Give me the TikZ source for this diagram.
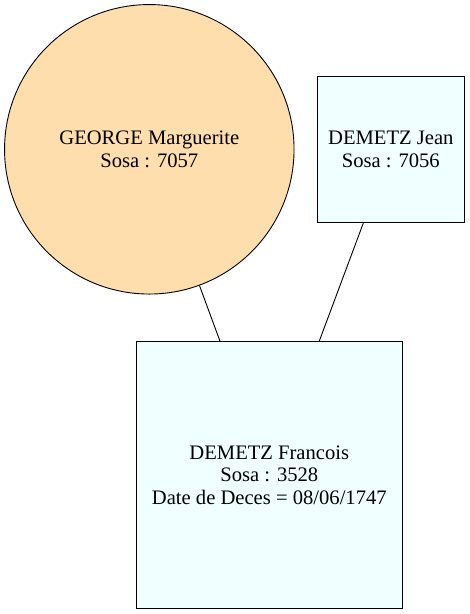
\documentclass[tikz,border=0pt]{standalone}
\usepackage{fontspec}
\setmainfont{Liberation Serif}
\definecolor{womancol}{HTML}{FFDEAD}
\definecolor{mancol}{HTML}{F0FFFF}

\begin{document}
\begin{tikzpicture}[x=1pt,y=-1pt,
    person/.style={draw,line width=0.9pt,inner sep=0pt,align=center,
      font=\fontsize{20.6}{22.5}\selectfont}]
      \useasboundingbox (0,0) rectangle (470,614);
      \draw
        (149.3, 149.3) node[person,circle,fill=womancol,minimum size=289.5pt] (7057){GEORGE Marguerite\\Sosa : 7057}
        (390.8, 149.3) node[person,rectangle,fill=mancol,minimum width=147pt,minimum height=146.7pt] (7056){DEMETZ Jean\\Sosa : 7056}
        (269.3, 475.2) node[person,rectangle,fill=mancol,minimum width=266.7pt,minimum height=267pt] (3528){DEMETZ Francois\\Sosa : 3528\\Date de Deces = 08/06/1747};
      \begin{scope}[-,line width=0.9pt]
        \draw (7057) -- (3528);
        \draw (7056) -- (3528);
      \end{scope}
    \end{tikzpicture}
\end{document}
